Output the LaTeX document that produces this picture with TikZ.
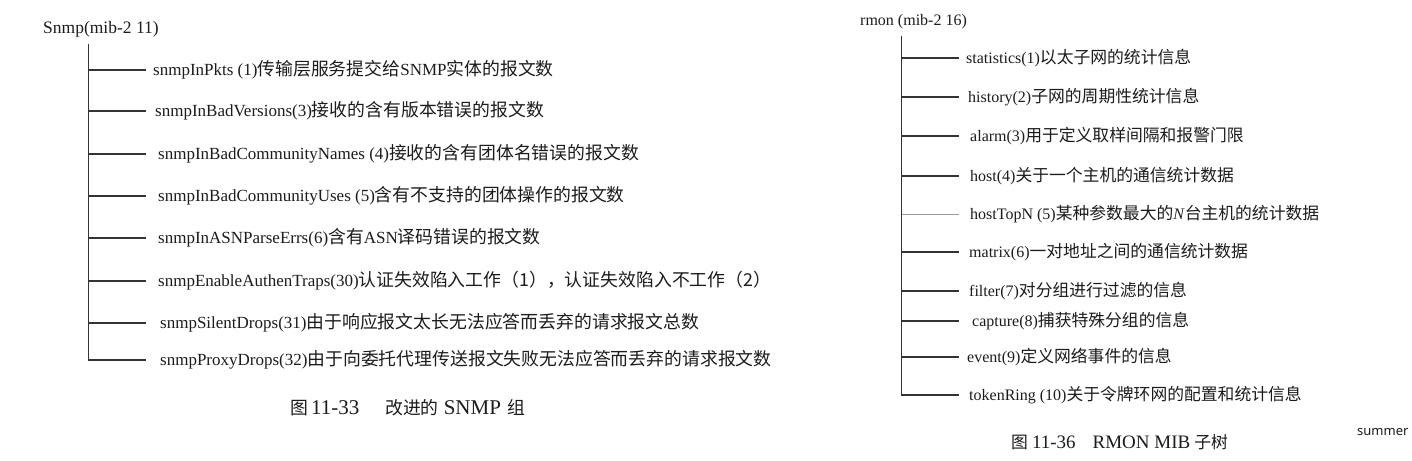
\documentclass[tikz,border=0pt]{standalone}
\usepackage{fontspec}
\setmainfont{Liberation Serif}
\newfontfamily\cjk{Noto Sans CJK SC}[Scale=1.05]
\newfontfamily\sumfont{Noto Sans}
\newcommand\zht[1]{{\cjk #1}}
\newcommand\zhs[2]{{\fontsize{#1}{#1}\cjk #2}}
\definecolor{ink}{HTML}{1C1C1C}
\definecolor{lineink}{HTML}{333333}
\definecolor{faintink}{HTML}{9A9A9A}
\begin{document}
\begin{tikzpicture}[x=1pt,y=-1pt,
  rootL/.style={inner sep=0pt, anchor=west, text=ink, font=\fontsize{17.5}{20}\selectfont},
  rootR/.style={inner sep=0pt, anchor=west, text=ink, font=\fontsize{16}{19}\selectfont},
  leafL/.style={anchor=west, inner ysep=0pt, inner xsep=#1, text=ink, font=\fontsize{17}{20}\selectfont},
  leafR/.style={anchor=west, inner ysep=0pt, inner xsep=#1, text=ink, font=\fontsize{16}{19}\selectfont},
  capt/.style={inner sep=0pt, anchor=west, text=ink},
  br/.style={draw=lineink, line width=1.3pt},
  faintbr/.style={draw=faintink, line width=0.7pt}
]
\fill[white] (0,0) rectangle (1412,460);
\useasboundingbox (0,0) rectangle (1412,460);

% ---------- left tree ----------
\node[rootL] (sroot) at (43,29) {Snmp(mib-2 11)};
\coordinate (tl) at (88.5,44);
\node[leafL=7pt]  (s1) at (146,70)  {snmpInPkts (1)\zht{传输层服务提交给}SNMP\zht{实体的报文数}};
\node[leafL=9pt]  (s2) at (146,111) {snmpInBadVersions(3)\zht{接收的含有版本错误的报文数}};
\node[leafL=12pt] (s3) at (146,154) {snmpInBadCommunityNames (4)\zht{接收的含有团体名错误的报文数}};
\node[leafL=12pt] (s4) at (146,196) {snmpInBadCommunityUses (5)\zht{含有不支持的团体操作的报文数}};
\node[leafL=12pt] (s5) at (146,238) {snmpInASNParseErrs(6)\zht{含有}ASN\zht{译码错误的报文数}};
\node[leafL=12pt] (s6) at (146,281) {snmpEnableAuthenTraps(30)\zht{认证失效陷入工作（1），认证失效陷入不工作（2）}};
\node[leafL=14pt] (s7) at (146,323) {snmpSilentDrops(31)\zht{由于响应报文太长无法应答而丢弃的请求报文总数}};
\node[leafL=14pt] (s8) at (146,360) {snmpProxyDrops(32)\zht{由于向委托代理传送报文失败无法应答而丢弃的请求报文数}};
\draw[br] (tl) |- (s8);
\foreach \n in {s1,s2,s3,s4,s5,s6,s7} \draw[br] (tl |- \n) -- (\n);
\node[capt, font=\fontsize{21}{24}\selectfont] (capL) at (290,408)
  {\zhs{17}{图}\hspace{3pt}11-33\hspace{26pt}\zhs{17}{改进的}\hspace{5pt}SNMP\hspace{6pt}\zhs{17}{组}};

% ---------- right tree ----------
\node[rootR] (rroot) at (860,22) {rmon (mib-2 16)};
\coordinate (tr) at (901.5,36);
\node[leafR=7pt]  (r1)  at (959,58)  {statistics(1)\zht{以太子网的统计信息}};
\node[leafR=9pt]  (r2)  at (959,97)  {history(2)\zht{子网的周期性统计信息}};
\node[leafR=11pt] (r3)  at (959,136) {alarm(3)\zht{用于定义取样间隔和报警门限}};
\node[leafR=11pt] (r4)  at (959,176) {host(4)\zht{关于一个主机的通信统计数据}};
\node[leafR=11pt] (r5)  at (959,214) {hostTopN (5)\zht{某种参数最大的}\textit{N}\zht{台主机的统计数据}};
\node[leafR=10pt] (r6)  at (959,252) {matrix(6)\zht{一对地址之间的通信统计数据}};
\node[leafR=10pt] (r7)  at (959,291) {filter(7)\zht{对分组进行过滤的信息}};
\node[leafR=13pt] (r8)  at (959,321) {capture(8)\zht{捕获特殊分组的信息}};
\node[leafR=8pt]  (r9)  at (959,357) {event(9)\zht{定义网络事件的信息}};
\node[leafR=10pt] (r10) at (959,395) {tokenRing (10)\zht{关于令牌环网的配置和统计信息}};
\draw[br] (tr) |- (r10);
\foreach \n in {r1,r2,r3,r4,r6,r7,r8,r9} \draw[br] (tr |- \n) -- (\n);
\draw[faintbr] (tr |- r5) -- (r5);
\node[capt, font=\fontsize{19}{22}\selectfont] (capR) at (1011,442)
  {\zhs{16}{图}\hspace{4pt}11-36\hspace{17pt}RMON MIB\hspace{4pt}\zhs{16}{子树}};

% ---------- corner label ----------
\node[inner sep=0pt, anchor=west, text=ink, font=\sumfont\fontsize{13}{15}\selectfont] (sum) at (1357,432) {summer};
\end{tikzpicture}
\end{document}
